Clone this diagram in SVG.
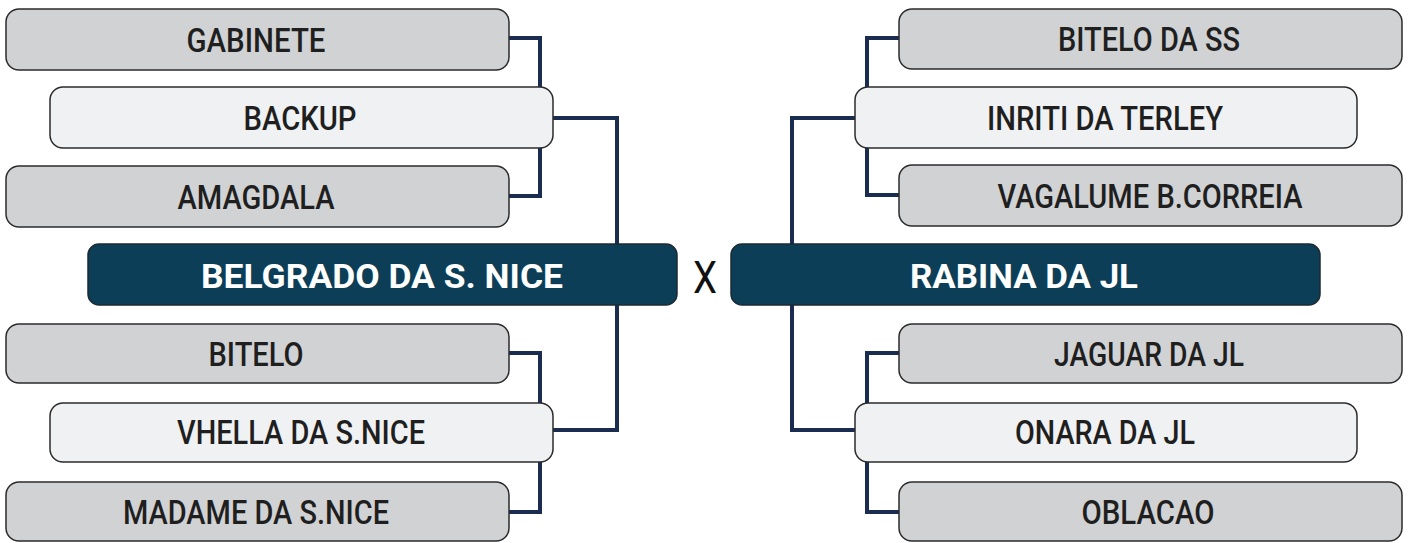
<svg xmlns="http://www.w3.org/2000/svg" width="1410" height="543" viewBox="0 0 1410 543">
<style>
.g{fill:#d1d2d4;stroke:#2b2b2b;stroke-width:1.5}
.l{fill:#f0f1f3;stroke:#2b2b2b;stroke-width:1.5}
.d{fill:#0c3f57;stroke:#1c2a33;stroke-width:1.5}
.t{font-family:Roboto,"Liberation Sans",sans-serif;font-weight:500;font-size:33px;fill:#1f1f1f;text-anchor:middle}
.w{font-family:Roboto,"Liberation Sans",sans-serif;font-weight:700;font-size:33px;fill:#ffffff;text-anchor:middle}
.x{font-family:Roboto,"Liberation Sans",sans-serif;font-weight:400;font-size:44px;fill:#111111;text-anchor:middle}
.c{fill:none;stroke:#1a2d50;stroke-width:4;stroke-linejoin:miter}
</style>
<rect width="1410" height="543" fill="#ffffff"/>
<g id="connectors">
<path class="c" d="M509 38H540V88M509 196H540V147"/>
<path class="c" d="M553 118H617V245M553 430H617V304"/>
<path class="c" d="M509 353H540V404M509 512H540V461"/>
<path class="c" d="M899 38H867V88M899 195H867V147"/>
<path class="c" d="M855 118H792V245M855 430H792V304"/>
<path class="c" d="M899 353H867V404M899 512H867V461"/>
</g>
<g id="gabinete"><rect class="g" x="6" y="9" width="503" height="61" rx="13"/><text class="t" x="256" y="52" textLength="139" lengthAdjust="spacingAndGlyphs">GABINETE</text></g>
<g id="backup"><rect class="l" x="50" y="87" width="503" height="61" rx="13"/><text class="t" x="300" y="130" textLength="113" lengthAdjust="spacingAndGlyphs">BACKUP</text></g>
<g id="amagdala"><rect class="g" x="6" y="166" width="503" height="61" rx="13"/><text class="t" x="256" y="209" textLength="157" lengthAdjust="spacingAndGlyphs">AMAGDALA</text></g>
<g id="belgrado"><rect class="d" x="88" y="244" width="589" height="61" rx="11"/><text class="w" x="382" y="288" textLength="362" lengthAdjust="spacingAndGlyphs">BELGRADO DA S. NICE</text></g>
<g id="bitelo"><rect class="g" x="6" y="324" width="503" height="59" rx="13"/><text class="t" x="256" y="366" textLength="95" lengthAdjust="spacingAndGlyphs">BITELO</text></g>
<g id="vhella"><rect class="l" x="50" y="403" width="503" height="59" rx="13"/><text class="t" x="301" y="444" textLength="248" lengthAdjust="spacingAndGlyphs">VHELLA DA S.NICE</text></g>
<g id="madame"><rect class="g" x="6" y="482" width="503" height="59" rx="13"/><text class="t" x="256" y="524" textLength="266" lengthAdjust="spacingAndGlyphs">MADAME DA S.NICE</text></g>
<g id="vs"><text class="x" x="705" y="293" textLength="24" lengthAdjust="spacingAndGlyphs">X</text></g>
<g id="bitelo-ss"><rect class="g" x="899" y="9" width="503" height="60" rx="13"/><text class="t" x="1149" y="51" textLength="182" lengthAdjust="spacingAndGlyphs">BITELO DA SS</text></g>
<g id="inriti"><rect class="l" x="855" y="87" width="502" height="61" rx="13"/><text class="t" x="1105" y="130" textLength="236" lengthAdjust="spacingAndGlyphs">INRITI DA TERLEY</text></g>
<g id="vagalume"><rect class="g" x="899" y="165" width="503" height="61" rx="13"/><text class="t" x="1150" y="208" textLength="305" lengthAdjust="spacingAndGlyphs">VAGALUME B.CORREIA</text></g>
<g id="rabina"><rect class="d" x="731" y="244" width="589" height="61" rx="11"/><text class="w" x="1024" y="288" textLength="228" lengthAdjust="spacingAndGlyphs">RABINA DA JL</text></g>
<g id="jaguar"><rect class="g" x="899" y="324" width="503" height="59" rx="13"/><text class="t" x="1149" y="366" textLength="190" lengthAdjust="spacingAndGlyphs">JAGUAR DA JL</text></g>
<g id="onara"><rect class="l" x="855" y="403" width="502" height="59" rx="13"/><text class="t" x="1105" y="444" textLength="180" lengthAdjust="spacingAndGlyphs">ONARA DA JL</text></g>
<g id="oblacao"><rect class="g" x="899" y="482" width="503" height="59" rx="13"/><text class="t" x="1148" y="524" textLength="133" lengthAdjust="spacingAndGlyphs">OBLACAO</text></g>
</svg>
